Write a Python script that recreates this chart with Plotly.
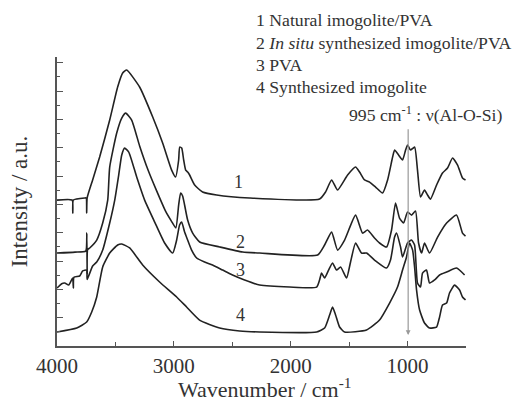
import plotly.graph_objects as go

# ---- data (wavenumber cm^-1, intensity a.u.) ----
wn1 = [4000, 3870, 3865, 3860, 3763, 3750, 3746, 3742, 3695, 3635, 3549, 3481, 3438, 3404, 3293, 3181, 3096, 3019, 2985,
       2959, 2950, 2933, 2916, 2899, 2882, 2865, 2822, 2754, 2634, 2352, 1753, 1702, 1650, 1599, 1513, 1445,
       1411, 1368, 1325, 1274, 1214, 1171, 1128, 1111, 1077, 1043, 1017, 1000, 975, 940, 915, 889, 855, 829,
       804, 752, 701, 658, 615, 572, 530, 504]
in1 = [10.30, 10.30, 9.40, 10.30, 10.45, 10.45, 9.39, 10.45, 11.72, 13.34, 15.95, 18.28, 19.27, 19.48, 18.28, 16.16, 14.33, 12.42, 11.93,
       13.13, 14.04, 13.97, 13.13, 12.42, 12.28, 12.07, 11.36, 10.87, 10.66, 10.45, 10.37, 10.87, 11.72, 11.01, 12.07, 12.63,
       12.28, 11.72, 11.57, 11.22, 10.80, 11.72, 13.34, 13.83, 13.48, 13.13, 13.83, 14.19, 13.83, 14.04, 12.42, 10.52, 11.01, 10.66,
       10.37, 11.36, 12.21, 12.56, 13.27, 12.77, 11.86, 11.72]

wn2 = [4000, 3846, 3754, 3745, 3742, 3738, 3720, 3660, 3609, 3566, 3549, 3489, 3446, 3412, 3361, 3293, 3220, 3150, 3070,
       3020, 2983, 2959, 2942, 2925, 2908, 2882, 2839, 2779, 2608, 2411, 2266, 1770, 1710, 1650, 1599, 1539, 1445,
       1385, 1343, 1283, 1240, 1180, 1137, 1103, 1069, 1034, 1000, 966, 932, 906, 880, 855, 812, 743, 666, 581, 530, 504]
in2 = [6.56, 6.63, 6.70, 7.97, 5.10, 6.80, 6.92, 7.48, 8.68, 10.30, 12.63, 15.03, 16.09, 16.44, 15.95, 14.12, 12.40, 11.00, 9.50,
       8.80, 8.33, 9.95, 10.80, 10.59, 9.95, 8.89, 7.97, 7.34, 6.99, 6.63, 6.56, 6.42, 7.13, 8.04, 6.77, 7.48, 9.24,
       7.97, 8.19, 7.62, 7.27, 6.99, 8.19, 10.09, 9.03, 8.68, 9.46, 9.24, 9.53, 7.27, 6.56, 7.27, 6.56, 7.69, 8.68, 9.24, 7.97, 7.76]

wn3 = [4000, 3960, 3934, 3900, 3866, 3860, 3855, 3806, 3780, 3746, 3742, 3695, 3660, 3609, 3549, 3506, 3472, 3446, 3421,
       3386, 3318, 3250, 3164, 3079, 3010, 2976, 2951, 2933, 2908, 2882, 2848, 2805, 2737, 2669, 2583, 2498, 2395,
       2266, 2009, 1778, 1753, 1736, 1710, 1676, 1642, 1608, 1573, 1522, 1488, 1445, 1394, 1351, 1283, 1180, 1146,
       1111, 1094, 1060, 1043, 1000, 966, 940, 915, 889, 872, 838, 812, 769, 726, 666, 581, 512]
in3 = [4.09, 4.40, 4.45, 4.30, 4.80, 4.10, 4.85, 4.94, 5.30, 5.36, 4.70, 5.65, 5.93, 6.77, 8.68, 10.30, 12.07, 13.48, 13.97,
       13.69, 11.93, 10.30, 8.75, 7.27, 6.56, 7.48, 8.54, 8.75, 8.04, 7.48, 6.77, 6.21, 5.93, 5.72, 5.36, 5.01, 4.66,
       4.30, 4.16, 4.16, 4.66, 5.15, 4.80, 5.36, 5.86, 5.36, 5.58, 4.80, 5.93, 7.27, 6.56, 6.56, 6.07, 5.50, 6.07,
       7.69, 7.97, 6.99, 6.28, 7.27, 7.48, 7.13, 4.45, 4.16, 5.15, 5.36, 4.45, 4.66, 5.01, 5.22, 5.50, 5.01]

wn4 = [4000, 3831, 3746, 3703, 3660, 3609, 3549, 3481, 3446, 3378, 3267, 3122, 2976, 2891, 2780, 2608, 2437, 2266,
       1778, 1710, 1667, 1642, 1616, 1582, 1539, 1351, 1240, 1154, 1086, 1043, 1009, 983, 957, 940, 923, 897, 855,
       812, 752, 726, 701, 666, 641, 598, 555, 530, 504]
in4 = [0.99, 1.27, 1.69, 2.40, 3.46, 5.58, 6.56, 7.13, 7.20, 6.92, 5.72, 4.52, 3.46, 2.75, 1.83, 1.27, 1.06, 0.99,
       0.99, 1.27, 2.19, 2.75, 2.19, 1.34, 0.99, 1.13, 1.83, 3.03, 4.16, 5.36, 6.28, 7.27, 6.77, 5.58, 3.95, 2.54, 1.62,
       1.27, 1.34, 2.05, 2.89, 3.03, 3.74, 4.30, 3.95, 3.46, 3.25]

curve_labels = ["1", "2", "3", "4"]
legend_lines = ["1 Natural imogolite/PVA",
                "2 <i>In situ</i> synthesized imogolite/PVA",
                "3 PVA",
                "4 Synthesized imogolite"]
band_wn = 995
band_text = "995 cm<sup>-1</sup> : ν(Al-O-Si)"
x_title = "Wavenumber / cm<sup>-1</sup>"
y_title = "Intensity / a.u."

FONT = "Liberation Serif"
LINE = "#222222"
TXT = "#333333"

fig = go.Figure()
for wn, it in [(wn1, in1), (wn2, in2), (wn3, in3), (wn4, in4)]:
    fig.add_trace(go.Scatter(x=wn, y=it, mode="lines",
                             line=dict(color=LINE, width=1.6, shape="spline", smoothing=0.5),
                             showlegend=False, hoverinfo="skip"))

W, H = 517, 401
L, R, T, B = 57, 51, 57, 55
def px(x):  # pixel -> paper x
    return (x - L) / (W - L - R)
def py(y):  # pixel -> paper y
    return (H - B - y) / (H - T - B)

ann = []
for i, txt in enumerate(legend_lines):
    ann.append(dict(x=px(254), y=py(20 + 22.5 * i), xref="paper", yref="paper", text=txt,
                    showarrow=False, xanchor="left", yanchor="middle",
                    font=dict(family=FONT, size=17.7, color=TXT)))
ann.append(dict(x=px(347), y=py(114), xref="paper", yref="paper", text=band_text,
                showarrow=False, xanchor="left", yanchor="middle",
                font=dict(family=FONT, size=17.7, color=TXT)))
for lab, (lx, ly) in zip(curve_labels, [(238, 182), (240, 242), (240, 270), (240, 315)]):
    ann.append(dict(x=px(lx), y=py(ly), xref="paper", yref="paper", text=lab,
                    showarrow=False, xanchor="center", yanchor="middle",
                    font=dict(family=FONT, size=18, color=TXT)))
# x axis title as annotation (fixed position below tick labels)
ann.append(dict(x=px(265), y=py(388), xref="paper", yref="paper", text=x_title,
                showarrow=False, xanchor="center", yanchor="middle",
                font=dict(family=FONT, size=22, color=TXT)))
# marker line with arrow at the band position
ann.append(dict(x=band_wn, y=0.78, xref="x", yref="y", ax=band_wn, ay=15.4, axref="x", ayref="y",
                text="", showarrow=True, arrowhead=2, arrowsize=0.8, arrowwidth=1.2, arrowcolor="#999"))

fig.update_layout(
    width=W, height=H, margin=dict(l=L, r=R, t=T, b=B, autoexpand=False),
    paper_bgcolor="white", plot_bgcolor="white",
    font=dict(family=FONT, color=TXT),
    annotations=ann,
    xaxis=dict(range=[4000, 500], showline=True, linecolor="#555", linewidth=1.5, mirror=False,
               showgrid=False, zeroline=False, ticks="inside", ticklen=5, tickwidth=1.2, tickcolor="#555",
               tickvals=[4000, 3000, 2000, 1000], ticktext=["4000", "3000", "2000", "1000"],
               ticklabelstandoff=0, automargin=False,
               minor=dict(tickvals=[3500, 2500, 1500, 500], ticks="inside", ticklen=4, tickcolor="#555", tickwidth=1.2),
               tickfont=dict(family=FONT, size=21, color=TXT)),
    yaxis=dict(range=[0, 20.4], showline=True, linecolor="#555", linewidth=1.5, mirror=False,
               showgrid=False, zeroline=False, ticks="inside", ticklen=6, tickwidth=1.2, tickcolor="#555",
               dtick=2, tick0=0, showticklabels=False, automargin=False,
               minor=dict(dtick=1, ticks="inside", ticklen=3, tickcolor="#555", tickwidth=1.2),
               title=dict(text=y_title, font=dict(family=FONT, size=23, color=TXT), standoff=21)),
)

fig.write_html("out.html")
